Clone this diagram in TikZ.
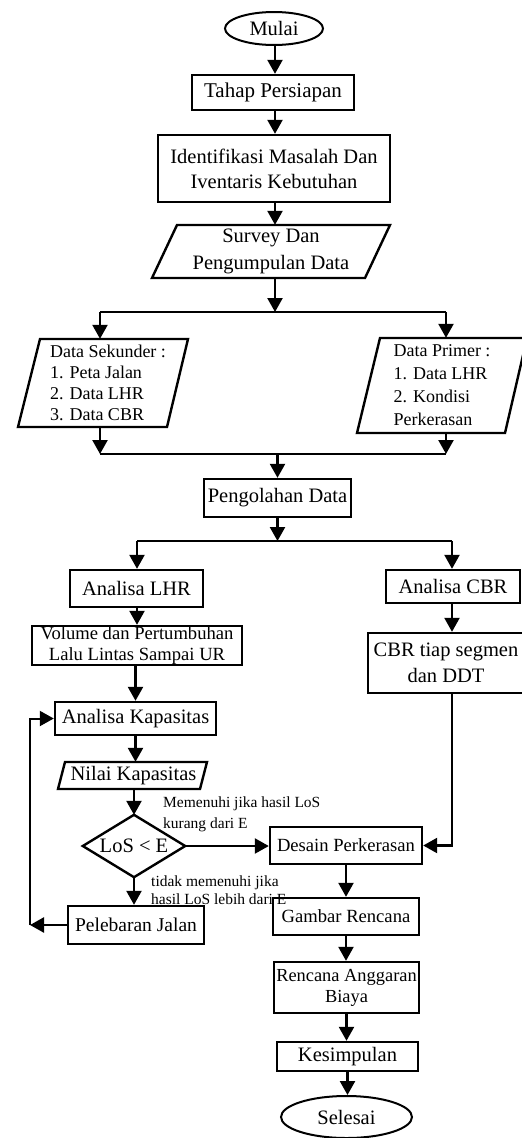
\documentclass[tikz,border=0pt]{standalone}
\usepackage{fontspec}
\setmainfont{Liberation Serif}
\usetikzlibrary{arrows.meta,shapes.geometric}
\newcommand{\fsz}[2]{\fontsize{#1}{#2}\selectfont}
\begin{document}
\begin{tikzpicture}[x=1pt,y=-1pt,
 box/.style={draw,line width=2.4pt,inner sep=0pt,align=center,font=\fsz{20.5}{25}},
 oval/.style={draw,ellipse,line width=2pt,inner sep=0pt,font=\fsz{20.5}{25}},
 txt/.style={inner sep=0pt,align=center,font=\fsz{20.5}{25}},
 frame/.style={line width=2.4pt,line join=miter},
 arr/.style={line width=2.4pt,-{Triangle[width=15pt,length=14pt]}},
 split/.style={line width=1.2pt},
 note/.style={inner sep=0pt,align=left,anchor=west,font=\fsz{15.5}{18}}]
\useasboundingbox (0,0) rectangle (522,1138);

% top column
\node[oval,minimum width=98pt,minimum height=33pt] (mulai) at (274,28.5) {Mulai};
\node[box,minimum width=162pt,minimum height=35pt,font=\fsz{21}{25}] (tahap) at (273,92.5) {Tahap Persiapan};
\node[box,minimum width=232pt,minimum height=67pt] (ident) at (274,168.5) {Identifikasi Masalah Dan\\Iventaris Kebutuhan};
\node[txt,minimum width=213pt,minimum height=53pt,font=\fsz{20.5}{26.5}] (survey) at (271,251.5) {Survey Dan\\Pengumpulan Data};
\draw[frame] (177,225) -- (390,225) -- (365,278) -- (152,278) -- cycle;

% data boxes
\node[inner sep=0pt,align=left,minimum height=88pt,font=\fsz{18}{21}] (ds) at (108,383) {Data Sekunder :\\1. Peta Jalan\\2. Data LHR\\3. Data CBR};
\draw[frame] (40,339) -- (188,339) -- (167,427) -- (18,427) -- cycle;
\node[inner sep=0pt,align=left,minimum height=95pt,font=\fsz{18}{23}] (dp) at (442,385.5) {Data Primer :\\1. Data LHR\\2. Kondisi\\Perkerasan};
\draw[frame] (380,338) -- (527,338) -- (505,433) -- (357,433) -- cycle;

\node[box,minimum width=147pt,minimum height=38pt] (peng) at (277.5,498) {Pengolahan Data};

% left column
\node[box,minimum width=133pt,minimum height=37pt] (lhr) at (136.5,588.5) {Analisa LHR};
\node[box,minimum width=210pt,minimum height=39pt,font=\fsz{18.6}{21}] (vol) at (137,645.5) {Volume dan Pertumbuhan\\Lalu Lintas Sampai UR};
\node[box,minimum width=161pt,minimum height=33pt] (kap) at (135.5,718.5) {Analisa Kapasitas};
\node[txt,minimum height=27pt] (nilai) at (133.5,775.5) {Nilai Kapasitas};
\draw[frame] (65,762) -- (207,762) -- (200,789) -- (58,789) -- cycle;
\node[txt,minimum width=102pt,minimum height=62pt] (dec) at (134,846) {LoS < E};
\draw[frame] (dec.west) -- (dec.north) -- (dec.east) -- (dec.south) -- cycle;
\node[box,minimum width=136pt,minimum height=38pt,font=\fsz{19.5}{24}] (pel) at (136,925) {Pelebaran Jalan};

% right column
\node[box,minimum width=134pt,minimum height=33pt] (acbr) at (453,586.5) {Analisa CBR};
\node[box,minimum width=156pt,minimum height=60pt,font=\fsz{20.5}{26.5}] (cbr) at (446,663) {CBR tiap segmen\\dan DDT};
\node[box,minimum width=152pt,minimum height=37pt,font=\fsz{18.6}{22}] (desain) at (346,845.5) {Desain Perkerasan};
\node[box,minimum width=146pt,minimum height=37pt,font=\fsz{18.6}{22}] (gambar) at (346,916.5) {Gambar Rencana};
\node[box,minimum width=145pt,minimum height=51pt,font=\fsz{18.4}{21}] (rab) at (346.5,987.5) {Rencana Anggaran\\Biaya};
\node[box,minimum width=141pt,minimum height=29pt] (kes) at (347.5,1056.5) {Kesimpulan};
\node[oval,minimum width=131pt,minimum height=42pt] (selesai) at (346.5,1117) {Selesai};

% labels
\node[note,font=\fsz{15.5}{21}] (lyes) at (163,814.5) {Memenuhi jika hasil LoS\\kurang dari E};
\node[note] (lno) at (151,890) {tidak memenuhi jika\\hasil LoS lebih dari E};

% junction coordinates
\coordinate (s1) at (275,312);
\coordinate (sL) at (100,312);
\coordinate (sR) at (446,312);
\coordinate (m1) at (277.5,454);
\coordinate (mL) at (100,454);
\coordinate (mR) at (446,454);
\coordinate (p1) at (277.5,541);
\coordinate (pL) at (137,541);
\coordinate (pR) at (452,541);
\coordinate (lp) at (30,925);
\coordinate (cr) at (452,844);

% connectors
\draw[arr] (mulai.south -| s1) -- (s1 |- tahap.north);
\draw[arr] (tahap.south -| s1) -- (s1 |- ident.north);
\draw[arr] (ident.south -| s1) -- (s1 |- survey.north);
\draw[arr] (survey.south -| s1) -- (s1);
\draw[split] (sL) -- (sR);
\draw[arr] (sL) -- (sL |- ds.north);
\draw[arr] (sR) -- (sR |- dp.north);
\draw[arr] (sL |- ds.south) -- (mL);
\draw[arr] (sR |- dp.south) -- (mR);
\draw[split] (mL) -- (mR);
\draw[arr] (m1) -- (m1 |- peng.north);
\draw[arr] (peng.south) -- (p1);
\draw[split] (pL) -- (pR);
\draw[arr] (pL) -- (pL |- lhr.north);
\draw[arr] (pR) -- (pR |- acbr.north);
\draw[arr] (lhr.south -| pL) -- (pL |- vol.north);
\draw[arr] (vol.south -| kap) -- (kap.north);
\draw[arr] (kap.south) -- (kap.south |- nilai.north);
\draw[arr] (nilai.south -| dec) -- (dec.north);
\draw[arr] (dec.east) -- (dec.east -| desain.west);
\draw[arr] (dec.south) -- (dec.south |- pel.north);
\draw[arr] (pel.west) -- (lp);
\draw[arr,line width=2pt] (lp) |- (kap.west);
\draw[arr] (acbr.south -| pR) -- (pR |- cbr.north);
\draw[arr] (cbr.south -| cr) |- (desain.east);
\draw[arr] (desain.south) -- (desain.south |- gambar.north);
\draw[arr] (gambar.south) -- (gambar.south |- rab.north);
\draw[arr] (rab.south) -- (rab.south |- kes.north);
\draw[arr] (kes.south) -- (kes.south |- selesai.north);
\end{tikzpicture}
\end{document}
